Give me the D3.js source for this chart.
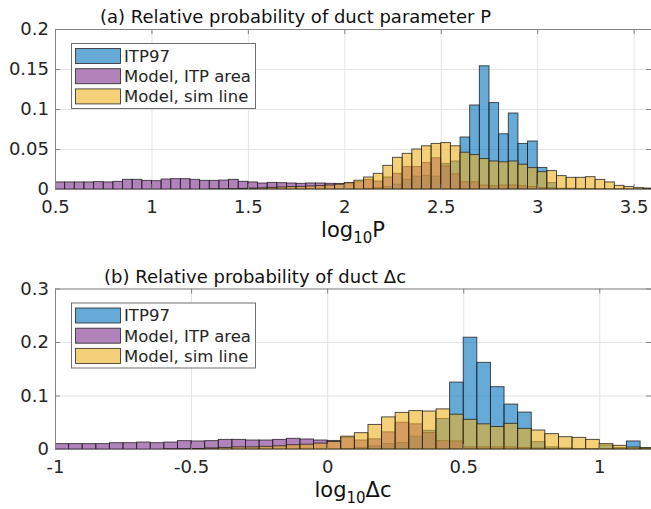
<!DOCTYPE html>
<html>
<head>
<meta charset="utf-8">
<script src="https://cdn.jsdelivr.net/npm/d3@7/dist/d3.min.js"></script>
<style>
  body { margin: 0; background: #fff; }
  svg { display: block; font-family: "DejaVu Sans", sans-serif; }
</style>
</head>
<body>
<svg id="chart" width="651" height="509"></svg>
<script>
// Shared histogram settings
const binWidth = 0.05;
const seriesNames = ["ITP97", "Model, ITP area", "Model, sim line"];
const seriesColors = ["#0072BD", "#7E2F8E", "#EDB120"];

// ---- Panel (a): log10 P, bins of 0.05 starting at 0.5 ----
const pBinStart = 0.5;
const pItp97 = [
  0, 0, 0, 0, 0, 0, 0, 0, 0, 0,
  0, 0, 0, 0, 0, 0, 0, 0, 0, 0,
  0, 0, 0, 0, 0, 0, 0, 0, 0, 0,
  0, 0, 0.001, 0.002, 0.003, 0.006, 0.012, 0.016, 0.017, 0.016,
  0.032, 0.035, 0.065, 0.105, 0.154, 0.108, 0.069, 0.095, 0.057, 0.060,
  0.027, 0.008, 0, 0, 0, 0, 0, 0, 0, 0,
  0, 0
];
const pModelArea = [
  0.0088, 0.0088, 0.0088, 0.0088, 0.0092, 0.0088, 0.0096, 0.0121, 0.0121, 0.0108,
  0.0104, 0.0125, 0.0129, 0.0129, 0.0121, 0.0108, 0.0108, 0.0112, 0.0121, 0.0096,
  0.0088, 0.0075, 0.0083, 0.0079, 0.0075, 0.0071, 0.0075, 0.0075, 0.0071, 0.0070,
  0.0075, 0.0090, 0.0120, 0.0100, 0.0150, 0.0196, 0.0280, 0.0280, 0.0330, 0.0390,
  0.0290, 0.0190, 0.0090, 0.0090, 0.0050, 0.0040, 0.0050, 0.0050, 0.0040, 0.0030,
  0.0020, 0.0015, 0.0010, 0.0010, 0.0008, 0.0006, 0.0005, 0.0004, 0.0003, 0.0002,
  0.0002, 0.0001
];
const pModelSim = [
  0, 0, 0, 0, 0, 0, 0, 0, 0, 0,
  0, 0, 0, 0, 0, 0, 0.0002, 0.0003, 0.0005, 0.0008,
  0.0012, 0.0015, 0.0020, 0.0025, 0.0030, 0.0033, 0.0038, 0.0042, 0.0050, 0.0060,
  0.0080, 0.0110, 0.0150, 0.0196, 0.0296, 0.0396, 0.0446, 0.0500, 0.0540, 0.0570,
  0.0580, 0.0540, 0.0460, 0.0430, 0.0380, 0.0350, 0.0340, 0.0350, 0.0310, 0.0267,
  0.0217, 0.0230, 0.0167, 0.0146, 0.0146, 0.0154, 0.0120, 0.0088, 0.0046, 0.0030,
  0.0017, 0.0012
];
const pXTicks = [0.5, 1, 1.5, 2, 2.5, 3, 3.5];
const pXTickLabels = ["0.5", "1", "1.5", "2", "2.5", "3", "3.5"];
const pYTicks = [0, 0.05, 0.1, 0.15, 0.2];
const pYTickLabels = ["0", "0.05", "0.1", "0.15", "0.2"];

// ---- Panel (b): log10 Δc, bins of 0.05 starting at -1 ----
const cBinStart = -1;
const cItp97 = [
  0, 0, 0, 0, 0, 0, 0, 0, 0, 0,
  0, 0, 0, 0, 0, 0, 0, 0, 0, 0,
  0, 0.001, 0.003, 0.006, 0.010, 0.012, 0.024, 0.035, 0.057, 0.125,
  0.209, 0.162, 0.1165, 0.084, 0.069, 0.0137, 0.004, 0.002, 0.001, 0.001,
  0.0075, 0.003, 0.015, 0.002
];
const cModelArea = [
  0.0100, 0.0100, 0.0100, 0.0100, 0.0118, 0.0118, 0.0130, 0.0118, 0.0130, 0.0156,
  0.0150, 0.0156, 0.0180, 0.0180, 0.0168, 0.0168, 0.0180, 0.0200, 0.0187, 0.0168,
  0.0160, 0.0220, 0.0168, 0.0190, 0.0320, 0.0500, 0.0470, 0.0310, 0.0155, 0.0150,
  0.0040, 0.0040, 0.0040, 0.0040, 0.0030, 0.0020, 0.0012, 0.0010, 0.0008, 0.0006,
  0.0005, 0.0004, 0.0003, 0.0002
];
const cModelSim = [
  0, 0, 0, 0, 0, 0, 0, 0, 0.0005, 0.0008,
  0.0010, 0.0020, 0.0030, 0.0040, 0.0040, 0.0050, 0.0060, 0.0080, 0.0090, 0.0110,
  0.0140, 0.0240, 0.0305, 0.0460, 0.0600, 0.0685, 0.0717, 0.0710, 0.0750, 0.0650,
  0.0555, 0.0470, 0.0420, 0.0480, 0.0386, 0.0355, 0.0287, 0.0230, 0.0218, 0.0180,
  0.0100, 0.0069, 0.0037, 0.0025
];
const cXTicks = [-1, -0.5, 0, 0.5, 1];
const cXTickLabels = ["-1", "-0.5", "0", "0.5", "1"];
const cYTicks = [0, 0.1, 0.2, 0.3];
const cYTickLabels = ["0", "0.1", "0.2", "0.3"];

const svg = d3.select("#chart");
const axisColor = "#858585";
const textColor = "#262626";

function drawPanel(cfg) {
  const x = d3.scaleLinear().domain(cfg.xDomain).range([cfg.left, cfg.right]);
  const y = d3.scaleLinear().domain(cfg.yDomain).range([cfg.bottom, cfg.top]);
  const w = cfg.right - cfg.left, h = cfg.bottom - cfg.top;
  const g = svg.append("g");

  const clipId = "clip-" + cfg.id;
  svg.append("clipPath").attr("id", clipId)
    .append("rect").attr("x", cfg.left).attr("y", cfg.top - 1).attr("width", w).attr("height", h + 1);

  // grid lines
  g.append("g").attr("transform", `translate(0,${cfg.bottom})`)
    .call(d3.axisBottom(x).tickValues(cfg.xTicks).tickSize(-h).tickFormat(""))
    .call(a => a.select(".domain").remove())
    .call(a => a.selectAll("line").attr("stroke", "#e4e4e4"));
  g.append("g").attr("transform", `translate(${cfg.left},0)`)
    .call(d3.axisLeft(y).tickValues(cfg.yTicks).tickSize(-w).tickFormat(""))
    .call(a => a.select(".domain").remove())
    .call(a => a.selectAll("line").attr("stroke", "#e4e4e4"));

  // histogram bars, drawn in series order so later series overlay earlier ones
  const bars = g.append("g").attr("clip-path", `url(#${clipId})`);
  cfg.series.forEach((vals, i) => {
    const data = vals.map((v, j) => ({ x0: cfg.binStart + j * binWidth, v }))
      .filter(d => d.v > 0);
    bars.append("g").selectAll("rect").data(data).join("rect")
      .attr("x", d => x(d.x0))
      .attr("width", d => x(d.x0 + binWidth) - x(d.x0))
      .attr("y", d => y(d.v))
      .attr("height", d => y(0) - y(d.v))
      .attr("fill", seriesColors[i])
      .attr("fill-opacity", 0.6)
      .attr("stroke", "#1e1e1e")
      .attr("stroke-opacity", 0.85)
      .attr("stroke-width", 0.9);
  });

  // axes with inward ticks on all four sides
  const styleAxis = a => {
    a.select(".domain").attr("stroke", axisColor);
    a.selectAll(".tick line").attr("stroke", axisColor);
    a.selectAll("text").attr("fill", textColor).attr("font-size", 18)
      .attr("font-family", "DejaVu Sans, sans-serif");
  };
  g.append("g").attr("transform", `translate(0,${cfg.bottom})`)
    .call(d3.axisBottom(x).tickValues(cfg.xTicks).tickFormat((d, i) => cfg.xTickLabels[i])
      .tickSizeInner(-5).tickSizeOuter(0).tickPadding(11))
    .call(styleAxis);
  g.append("g").attr("transform", `translate(0,${cfg.top})`)
    .call(d3.axisTop(x).tickValues(cfg.xTicks).tickFormat("").tickSizeInner(-5).tickSizeOuter(0))
    .call(styleAxis);
  g.append("g").attr("transform", `translate(${cfg.left},0)`)
    .call(d3.axisLeft(y).tickValues(cfg.yTicks).tickFormat((d, i) => cfg.yTickLabels[i])
      .tickSizeInner(-5).tickSizeOuter(0).tickPadding(6))
    .call(styleAxis);
  g.append("g").attr("transform", `translate(${cfg.right},0)`)
    .call(d3.axisRight(y).tickValues(cfg.yTicks).tickFormat("").tickSizeInner(-5).tickSizeOuter(0))
    .call(styleAxis);

  // title
  g.append("text").attr("x", cfg.titleX).attr("y", cfg.top - 6)
    .attr("font-size", 18).attr("fill", "#111").text(cfg.title);

  // x-axis label: log10 followed by the quantity
  const xl = g.append("text").attr("x", (cfg.left + cfg.right) / 2).attr("y", cfg.bottom + 48)
    .attr("text-anchor", "middle").attr("font-size", 21).attr("fill", "#111");
  xl.append("tspan").text("log");
  xl.append("tspan").attr("font-size", 15).attr("dy", 6).text("10");
  xl.append("tspan").attr("dy", -6).text(cfg.quantity);

  // legend
  const lg = g.append("g").attr("transform", `translate(${cfg.legendX},${cfg.legendY})`);
  lg.append("rect").attr("x", 0.5).attr("y", 0.5).attr("width", 184).attr("height", 65)
    .attr("fill", "#fff").attr("stroke", "#6f6f6f").attr("stroke-width", 1);
  seriesNames.forEach((name, i) => {
    const row = lg.append("g").attr("transform", `translate(0,${13 + i * 20.2})`);
    row.append("rect").attr("x", 4.5).attr("y", -7.5).attr("width", 45).attr("height", 15)
      .attr("fill", seriesColors[i]).attr("fill-opacity", 0.6)
      .attr("stroke", "#1e1e1e").attr("stroke-opacity", 0.85).attr("stroke-width", 0.9);
    row.append("text").attr("x", 53).attr("y", 0).attr("dy", "0.36em")
      .attr("font-size", 16.5).attr("fill", textColor).text(name);
  });
}

drawPanel({
  id: "a", left: 55, right: 651, top: 29, bottom: 189,
  xDomain: [0.5, 3.59], yDomain: [0, 0.2],
  binStart: pBinStart, series: [pItp97, pModelArea, pModelSim],
  xTicks: pXTicks, xTickLabels: pXTickLabels, yTicks: pYTicks, yTickLabels: pYTickLabels,
  title: "(a) Relative probability of duct parameter P", titleX: 100,
  quantity: "P", legendX: 71, legendY: 43
});

drawPanel({
  id: "b", left: 55, right: 651, top: 288.5, bottom: 449,
  xDomain: [-1, 1.19], yDomain: [0, 0.3],
  binStart: cBinStart, series: [cItp97, cModelArea, cModelSim],
  xTicks: cXTicks, xTickLabels: cXTickLabels, yTicks: cYTicks, yTickLabels: cYTickLabels,
  title: "(b) Relative probability of duct \u0394c", titleX: 104,
  quantity: "\u0394c", legendX: 71, legendY: 302.5
});
</script>
</body>
</html>
